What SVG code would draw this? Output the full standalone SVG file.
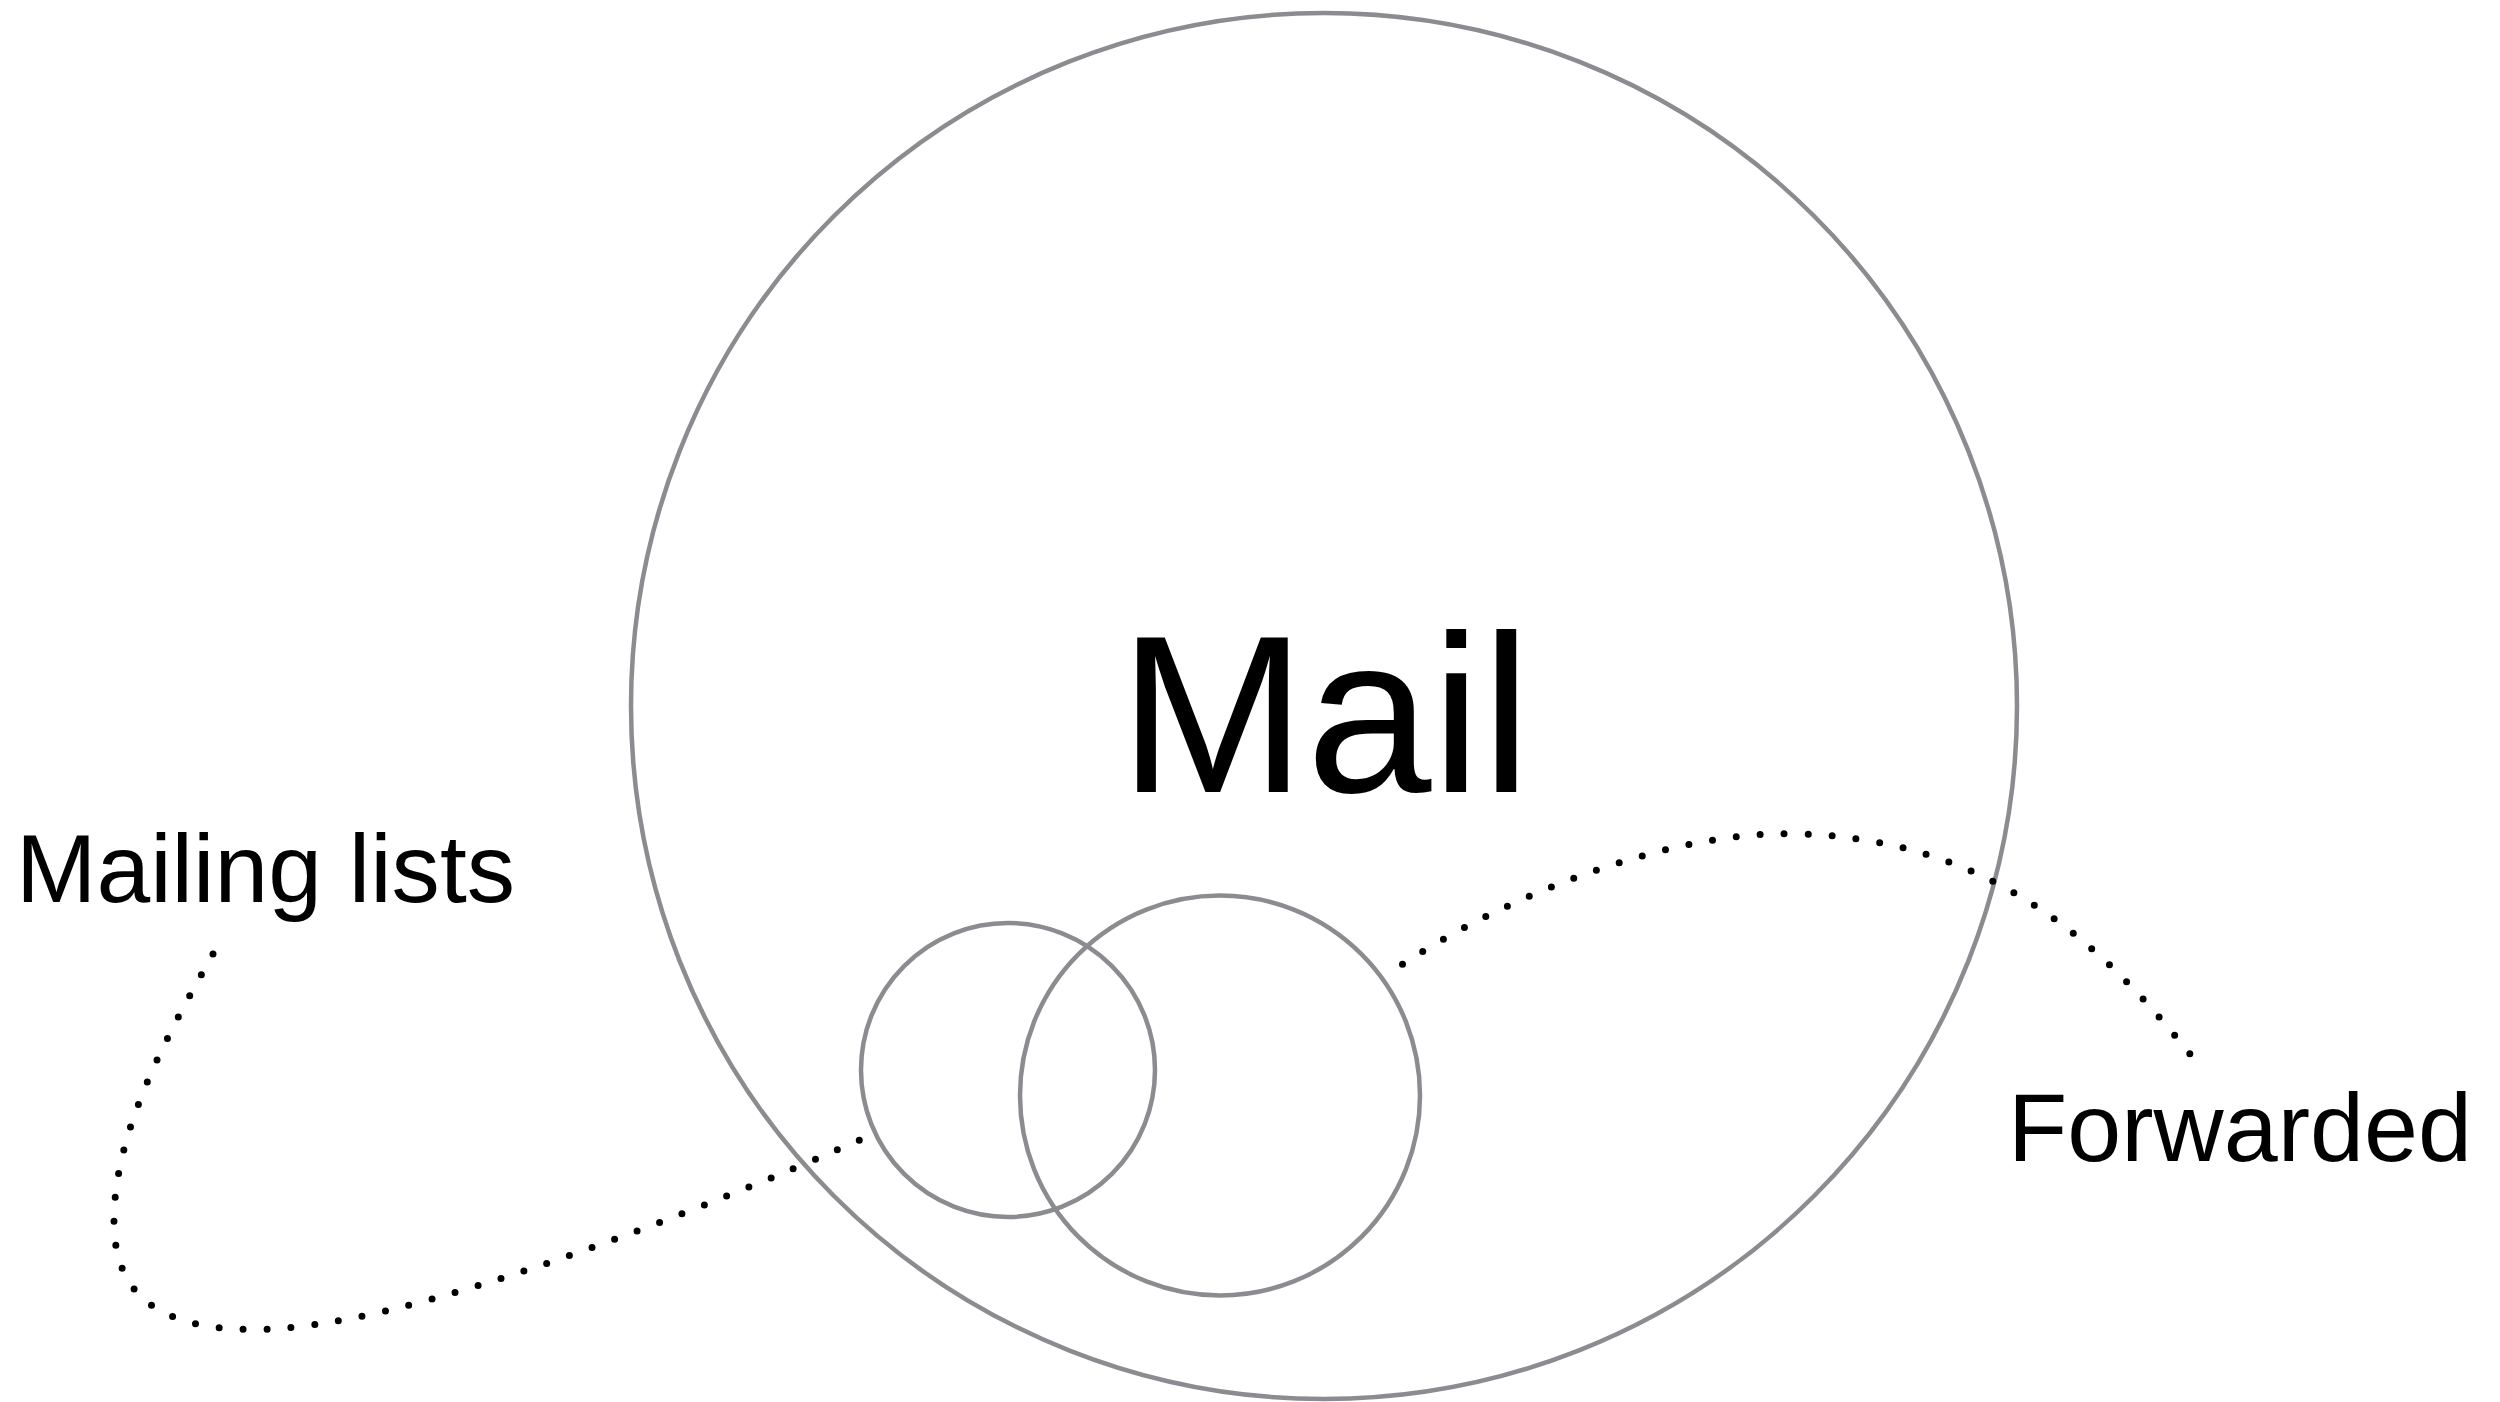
<svg xmlns="http://www.w3.org/2000/svg" width="2500" height="1402" viewBox="0 0 2500 1402">
<style>
.ring{fill:none;stroke:#8b8c90;stroke-width:4.5}
.dots{fill:none;stroke:#000;stroke-width:7;stroke-linecap:round;stroke-dasharray:0 24}
.lbl{font-family:"Liberation Sans",Arial,sans-serif;fill:#000}
</style>
<rect width="2500" height="1402" fill="#fff"/>
<g id="mail">
<circle class="ring" cx="1324" cy="706" r="693"/>
<text class="lbl" x="1325" y="792" font-size="225" text-anchor="middle">Mail</text>
</g>
<g id="mailing-lists">
<circle class="ring" cx="1008" cy="1070" r="147"/>
<text class="lbl" x="16" y="902" font-size="96" textLength="499" lengthAdjust="spacingAndGlyphs">Mailing lists</text>
</g>
<g id="forwarded">
<circle class="ring" cx="1220" cy="1095.5" r="200"/>
<text class="lbl" x="2008" y="1160.5" font-size="96" textLength="464" lengthAdjust="spacingAndGlyphs">Forwarded</text>
</g>
<g id="connectors">
<path class="dots" d="M213,954 C170,1030 114,1130 114,1221 C114,1296 160,1329.5 255,1329.5 C405,1329.5 700,1210 860,1140"/>
<path class="dots" d="M1402.5,964.3 C1525,884 1680,833.7 1784,833.7 C1994,833.7 2108.6,952.6 2190,1054"/>
</g>
</svg>
